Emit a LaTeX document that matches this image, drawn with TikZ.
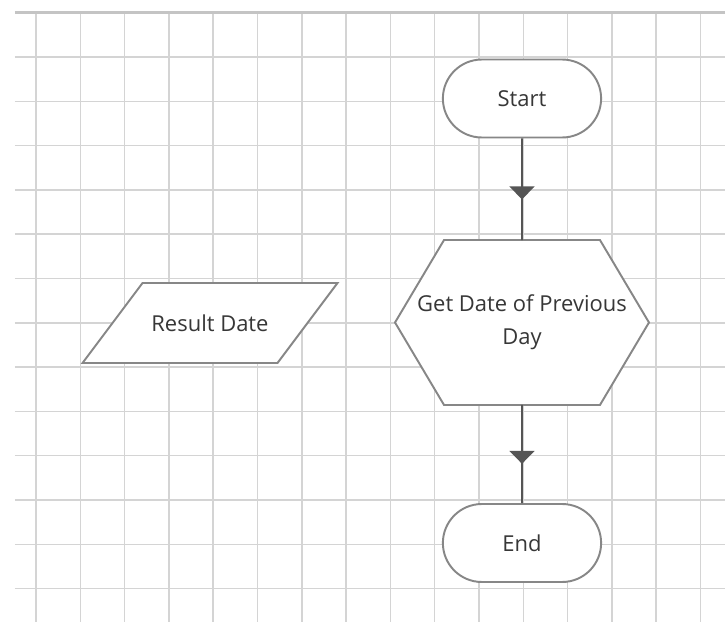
\documentclass[tikz,border=0pt]{standalone}
\usepackage{fontspec}
\setmainfont{Open Sans}
\usepackage{tikz}
\usetikzlibrary{arrows.meta,shapes.misc,decorations.markings,backgrounds}
\definecolor{gridgrey}{RGB}{212, 212, 212}
\definecolor{topgrey}{RGB}{196, 196, 196}
\definecolor{edgegrey}{RGB}{135, 135, 135}
\definecolor{linegrey}{RGB}{85, 85, 85}
\definecolor{textgrey}{RGB}{55, 55, 55}

\begin{document}
\begin{tikzpicture}
  [
    x=0.02cm, y=-0.02cm,
    font=\fontsize{12.5}{19}\selectfont, text=textgrey,
    grid/.style={gridgrey, line width=0.85pt},
    topline/.style={topgrey, line width=1.7pt},
    outline/.style={draw=edgegrey, line width=1.1pt, fill=white},
    terminal/.style={outline, rounded rectangle, minimum width=3.4cm, minimum height=1.56cm},
    textbox/.style={inner sep=0pt, outer sep=0pt, align=center},
    flow/.style={draw=linegrey, line width=1.1pt, postaction={decorate},
      decoration={markings, mark=at position 0.6 with {\arrow[linegrey]{Triangle[width=0.5cm, length=0.26cm]}}}}
  ]
  \useasboundingbox (0,0) rectangle (725,626);

  \node[terminal] (start) at (522,98.5) {Start};
  \node[textbox, minimum width=5.08cm, minimum height=3.3cm] (get) at (522,322.5) {Get Date of Previous\\Day};
  \node[textbox, minimum width=3.9cm, minimum height=1.6cm] (result) at (210,323) {Result Date};
  \node[terminal] (end) at (522,543) {End};

  \draw[flow] (start) -- (get);
  \draw[flow] (get) -- (end);

  \begin{pgfonlayer}{background}
    \fill[white] (0,0) rectangle (725,626);
    % paper grid
    \foreach \i in {0,...,15}
      \draw[grid] (36+44.3*\i, 12.7) -- (36+44.3*\i, 622);
    \foreach \j in {1,...,13}
      \draw[grid] (15, 12.7+44.3*\j) -- (725, 12.7+44.3*\j);
    \draw[topline] (15,12.7) -- (725,12.7);

    \draw[outline] ([xshift=0.98cm]get.north west) -- ([xshift=-0.98cm]get.north east) -- (get.east)
      -- ([xshift=-0.98cm]get.south east) -- ([xshift=0.98cm]get.south west) -- (get.west) -- cycle;
    \draw[outline] ([xshift=0.6cm]result.north west) -- ([xshift=0.6cm]result.north east)
      -- ([xshift=-0.6cm]result.south east) -- ([xshift=-0.6cm]result.south west) -- cycle;
  \end{pgfonlayer}
\end{tikzpicture}
\end{document}
